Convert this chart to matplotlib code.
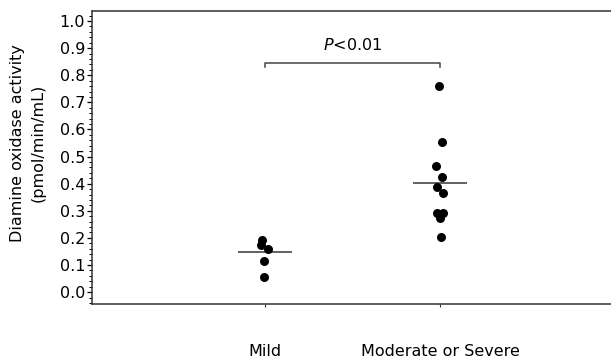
import matplotlib
matplotlib.use('Agg')
import matplotlib.pyplot as plt
import numpy as np
from matplotlib.ticker import MultipleLocator

plt.rcParams['font.family'] = ['DejaVu Sans']
plt.rcParams['mathtext.fontset'] = 'dejavusans'

# data
groups = ['Mild', 'Moderate or Severe']
mild = [0.194, 0.173, 0.158, 0.115, 0.056]
severe = [0.760, 0.554, 0.466, 0.425, 0.389, 0.366, 0.293, 0.290, 0.272, 0.205]
group_lines = [0.149, 0.402]
p_text = '$P$<0.01'

# small horizontal scatter as in the original
mild_jit = [-0.017, -0.023, 0.019, -0.006, -0.006]
severe_jit = [-0.004, 0.010, -0.023, 0.013, -0.015, 0.015, -0.015, 0.015, 0.0, 0.006]

fs = 11.5
fig = plt.figure(figsize=(6.11, 3.63), dpi=100)
ax = fig.add_axes([0.1506, 0.1625, 0.8494, 0.8072])

xpos = [1, 2]
for x, vals, jit in [(xpos[0], mild, mild_jit), (xpos[1], severe, severe_jit)]:
    ax.scatter(np.array(jit) + x, vals, s=42, color='black', zorder=3, linewidths=0)

for x, v in zip(xpos, group_lines):
    ax.hlines(v, x - 0.155, x + 0.155, color='#555555', linewidth=1.3, zorder=2)

# significance bracket
yb = 0.846
ax.plot([xpos[0], xpos[0], xpos[1], xpos[1]], [yb - 0.015, yb, yb, yb - 0.015],
        color='#444444', linewidth=1.1)
ax.text(sum(xpos) / 2, 0.911, p_text, ha='center', va='center', fontsize=fs)

ax.set_xlim(0.011, 2.977)
ax.set_ylim(-0.044, 1.037)
ax.set_xticks(xpos)
ax.set_xticklabels(groups, fontsize=fs)
ax.tick_params(axis='x', length=2.5, pad=26, color='#333333')
ax.yaxis.set_minor_locator(MultipleLocator(0.02))
ax.set_yticks(np.arange(0, 1.01, 0.1))
ax.set_yticklabels([f'{v:.1f}' for v in np.arange(0, 1.01, 0.1)], fontsize=fs)
ax.tick_params(axis='y', which='major', length=3.5, width=0.9, pad=1.5)
ax.tick_params(axis='y', which='minor', length=2, width=0.7)

ax.set_ylabel('Diamine oxidase activity\n(pmol/min/mL)', fontsize=fs, linespacing=1.45)
ax.yaxis.set_label_coords(-0.09, 0.55)

ax.spines['right'].set_visible(False)
for s in ['left', 'top', 'bottom']:
    ax.spines[s].set_color('#333333')
    ax.spines[s].set_linewidth(1.1)

fig.savefig('out.png', dpi=100)
